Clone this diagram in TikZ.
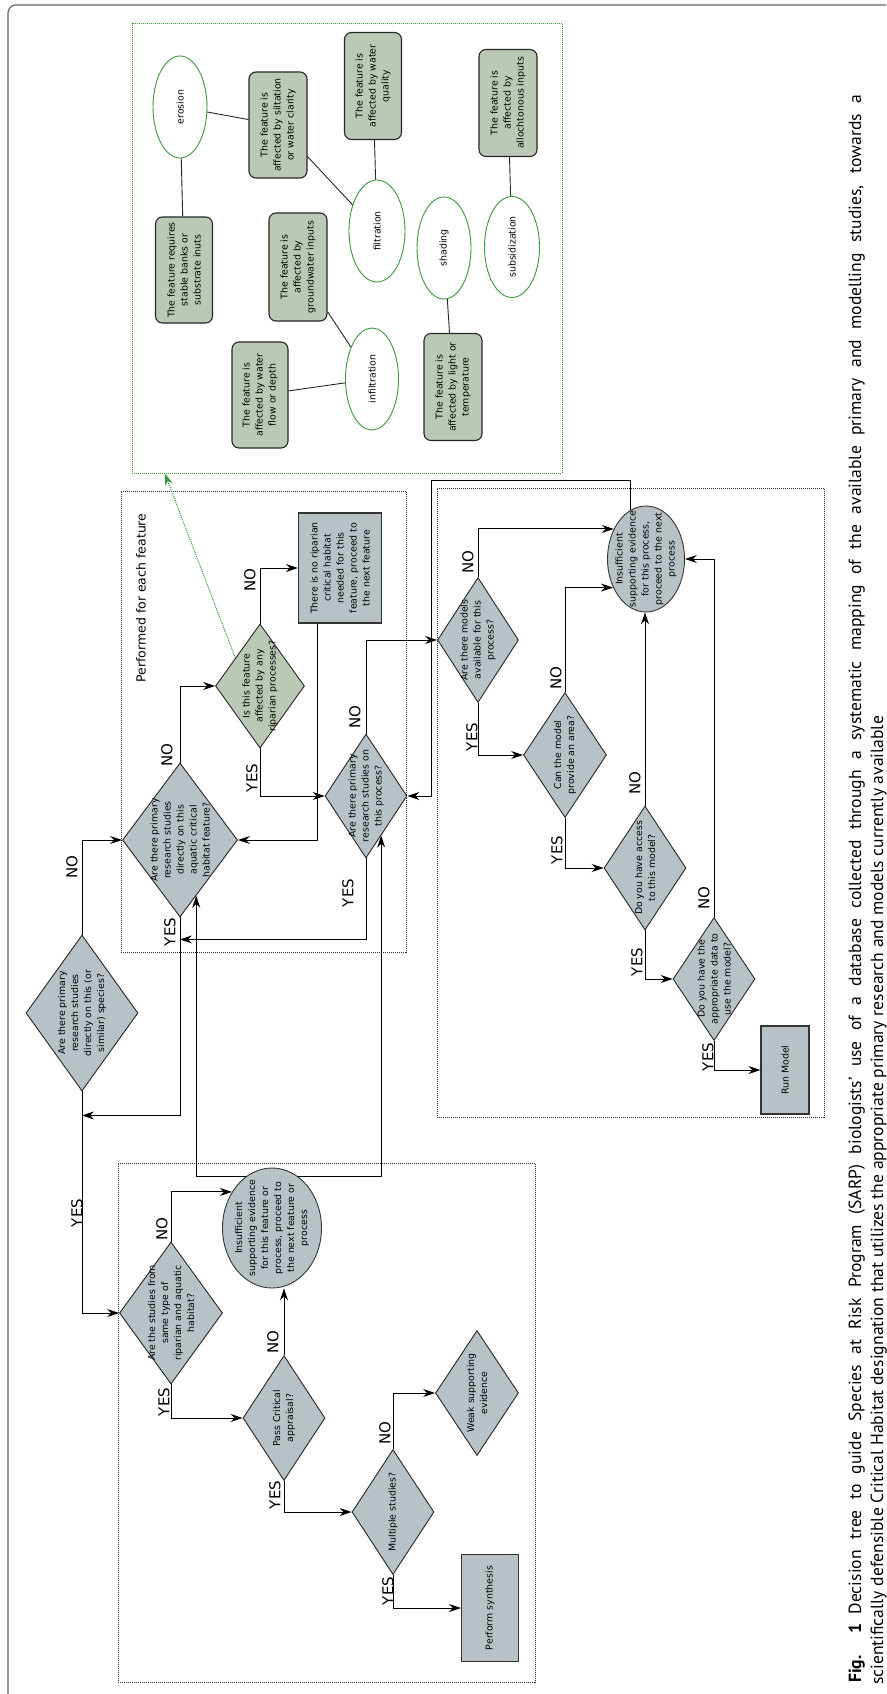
\documentclass[tikz,border=0pt]{standalone}
\usepackage{fontspec}
\setmainfont{DejaVu Sans}
\newfontfamily\capfont{PT Sans}
\usetikzlibrary{shapes.geometric,arrows.meta,calc}
\definecolor{grayfill}{RGB}{184,194,198}
\definecolor{greenfill}{RGB}{186,200,181}
\definecolor{greenline}{RGB}{60,150,60}
\definecolor{framegray}{RGB}{100,100,100}
\begin{document}
\begin{tikzpicture}[x=1pt,y=-1pt,
  txt/.style={font=\fontsize{9.4}{13}\selectfont, align=center},
  vs/.style 2 args={minimum height=#1pt, minimum width=#2pt},
  dia/.style={diamond, draw=black!85, line width=0.9pt, fill=grayfill, rotate=90, inner sep=0pt},
  gdia/.style={dia, fill=greenfill},
  qt/.style={txt, rotate=90, inner sep=0pt},
  rbox/.style={rectangle, draw=black!80, line width=1.1pt, fill=grayfill, rotate=90, inner sep=0pt, txt},
  gbox/.style={rectangle, rounded corners=7pt, draw=black!85, line width=1.1pt, fill=greenfill, rotate=90, inner sep=0pt, txt},
  gell/.style={ellipse, draw=greenline, line width=0.9pt, fill=white, rotate=90, inner sep=0pt, txt},
  ell/.style={ellipse, draw=black!80, line width=0.9pt, fill=grayfill, rotate=90, inner sep=0pt},
  cont/.style={rectangle, draw=black!85, line width=0.8pt, dash pattern=on 1pt off 1pt, inner sep=0pt},
  lab/.style={rotate=90, font=\fontsize{15}{18}\selectfont, inner sep=0pt},
  arr/.style={line width=1pt, -{Stealth[length=12pt,width=8pt,inset=4pt]}},
  gl/.style={line width=0.9pt, black!85},
  garr/.style={greenline, line width=1pt, dash pattern=on 1pt off 1pt, -{Stealth[length=12pt,width=8pt,inset=4pt,fill=greenline]}},
  capt/.style={rotate=90, anchor=base west, inner sep=0pt, font=\capfont\fontsize{17.6}{20}\selectfont}
]
\useasboundingbox (0,0) rectangle (886,1694);
\fill[white] (0,0) rectangle (886,1694);
\draw[framegray, line width=1.2pt, rounded corners=8pt] (886,5) -- (8,5) -- (8,1694);

% containers
\node[cont, draw=greenline, minimum width=430pt, minimum height=450pt] (GB) at (347,248) {};
\node[cont, minimum width=285pt, minimum height=461pt] (PF) at (263.5,721.5) {};
\node[cont, minimum width=387pt, minimum height=629pt] (RB) at (630.5,802.5) {};
\node[cont, minimum width=417pt, minimum height=519pt] (LB) at (326.5,1422.5) {};
\node[rotate=90, font=\fontsize{12.5}{15}\selectfont] (PFl) at (141,598) {Performed for each feature};

% green panel
\node[gell, vs={54}{102}] (ero) at (180,107) {erosion};
\node[gell, vs={56}{102}] (fil) at (377,231) {filtration};
\node[gell, vs={54}{102}] (sha) at (444,248) {shading};
\node[gell, vs={55}{101}] (sub) at (512,247) {subsidization};
\node[gell, vs={53}{102}] (inf) at (372,379) {infiltration};
\node[gbox, vs={57}{106}] (G1) at (184,270) {The feature requires\\stable banks or\\substrate inuts};
\node[gbox, vs={58}{106}] (G2) at (278,125) {The feature is\\affected by siltation\\or water clarity};
\node[gbox, vs={57}{107}] (G3) at (373,86) {The feature is\\affected by water\\quality};
\node[gbox, vs={58}{107}] (G4) at (508,103) {The feature is\\affected by\\allochtonous inputs};
\node[gbox, vs={58}{108}] (G5) at (298,267) {The feature is\\affected by\\groundwater inputs};
\node[gbox, vs={56}{106}] (G6) at (260,395) {The feature is\\affected by water\\flow or depth};
\node[gbox, vs={58}{107}] (G7) at (453,387) {The feature is\\affected by light or\\temperature};
\draw[gl] (ero) -- (G1);
\draw[gl] (ero) -- (G2);
\draw[gl] (G2) -- (fil);
\draw[gl] (G3) -- (fil);
\draw[gl] (G5) -- (inf);
\draw[gl] (G6) -- (inf);
\draw[gl] (sha) -- (G7);
\draw[gl] (G4) -- (sub);

% decision nodes
\node[dia, vs={112}{156}] (D1) at (82,1013) {};
\node[qt] (D1t) at (D1) {Are there primary\\research studies\\directly on this (or\\similar) species?};
\node[dia, vs={115}{154}] (D2) at (180,840) {};
\node[qt] (D2t) at (D2) {Are there primary\\research studies\\directly on this\\aquatic critical\\habitat feature?};
\node[gdia, vs={89}{124}] (D3) at (260,686) {};
\node[qt] (D3t) at (D3) {Is this feature\\affected by any\\riparian processes?};
\node[rbox, vs={83}{110}] (B1) at (340,568) {There is no riparian\\critical habitat\\needed for this\\feature, proceed to\\the next feature};
\node[dia, vs={82}{124}] (D4) at (366,796) {};
\node[qt] (D4t) at (D4) {Are there primary\\research studies on\\this process?};
\node[dia, vs={81}{125}] (D5) at (478,640) {};
\node[qt] (D5t) at (D5) {Are there models\\available for this\\process?};
\node[dia, vs={83}{125}] (D9) at (565,755) {};
\node[qt] (D9t) at (D9) {Can the model\\provide an area?};
\node[ell, vs={77}{106}] (E2) at (646,559) {};
\node[qt] (E2t) at (E2) {Insufficient\\supporting evidence\\for this process,\\proceed to the next\\process};
\node[dia, vs={82}{124}] (D10) at (645,868) {};
\node[qt] (D10t) at (D10) {Do you have access\\to this model?};
\node[dia, vs={82}{123}] (D11) at (714,979) {};
\node[qt] (D11t) at (D11) {Do you have the\\appropriate data to\\use the model?};
\node[rbox, vs={48}{88}] (RM) at (785,1070) {Run Model};
\node[dia, vs={103}{142}] (D6) at (171,1313) {};
\node[qt] (D6t) at (D6) {Are the studies from\\same type of\\riparian and aquatic\\habitat?};
\node[ell, vs={99}{120}] (E1) at (272,1228) {};
\node[qt] (E1t) at (E1) {Insufficient\\supporting evidence\\for this feature or\\process, proceed to\\the next feature or\\process};
\node[dia, vs={82}{125}] (D7) at (284,1418) {};
\node[qt] (D7t) at (D7) {Pass Critical\\appraisal?};
\node[dia, vs={82}{125}] (D8) at (393,1512) {};
\node[qt] (D8t) at (D8) {Multiple studies?};
\node[dia, vs={83}{125}] (W) at (477,1393) {};
\node[qt] (Wt) at (W) {Weak supporting\\evidence};
\node[rbox, vs={57}{107}] (PS) at (490,1608) {Perform synthesis};

% connectors
\draw[arr] (D1.east) |- (D2.north);
\draw[arr] (D2.east) |- (D3.north);
\draw[arr] (D3.east) |- (B1.north);
\draw[arr] (D3.west) |- (D4.north);
\draw[arr] ($(B1.west)+(-23,0)$) |- (D2.south);
\draw[arr] (D4.east) |- (D5.north);
\draw[arr] (D4.west) |- ($(D2.west)+(0,22)$);
\draw[arr] (D2.west) |- ($(D1.west)+(0,24)$);
\draw[arr] (D1.west) |- (D6.north);
\draw[arr] (D6.east) |- (E1.48);
\draw[arr] (D6.west) |- (D7.north);
\draw[arr] (D7.east) -- (D7.east |- E1.west);
\draw[arr] (D7.west) |- (D8.north);
\draw[arr] (D8.east) |- (W.north);
\draw[arr] (D8.west) |- (PS.north);
\draw[arr] (E1.27) -| ($(D2.west)!0.28!(D2.south)$);
\draw[arr] (E1.-27) -| ($(D4.west)!0.366!(D4.south)$);
\draw[arr] (D5.east) |- (E2.47);
\draw[arr] (D5.west) |- (D9.north);
\draw[arr] (D9.east) |- (E2.131);
\draw[arr] (D9.west) |- (D10.north);
\draw[arr] (D10.east) -- (D10.east |- E2.west);
\draw[arr] (D10.west) |- (D11.north);
\draw[arr] (D11.east) |- (E2.south);
\draw[arr] (D11.west) |- (RM.north);
\draw[arr] (E2.18) -- ++(0,-30) -| ($(D4.south)+(24,0)$) -- (D4.south);
\draw[garr] ($(D3.north)!0.45!(D3.east)$) -- ($(GB.south west)!0.077!(GB.south east)$);

% YES / NO labels
\node[lab] (n1) at (72,867) {NO};
\node[lab] (n2) at (167,755) {NO};
\node[lab] (n3) at (250,580) {NO};
\node[lab] (y3) at (252,778) {YES};
\node[lab] (n4) at (355,717) {NO};
\node[lab] (y4) at (348,893) {YES};
\node[lab] (y2) at (170,932) {YES};
\node[lab] (y1) at (77,1213) {YES};
\node[lab] (n6) at (162,1229) {NO};
\node[lab] (y6) at (164,1402) {YES};
\node[lab] (n7) at (273,1342) {NO};
\node[lab] (y7) at (275,1495) {YES};
\node[lab] (n8) at (385,1433) {NO};
\node[lab] (y8) at (388,1591) {YES};
\node[lab] (n5) at (468,562) {NO};
\node[lab] (y5) at (472,737) {YES};
\node[lab] (n9) at (556,678) {NO};
\node[lab] (y9) at (557,850) {YES};
\node[lab] (n10) at (635,783) {NO};
\node[lab] (y10) at (637,962) {YES};
\node[lab] (n11) at (704,898) {NO};
\node[lab] (y11) at (708,1057) {YES};

% caption
\node[capt] (cap1) at (861,1683) {\hbox to 1588pt{\textbf{Fig. 1}\hspace{0.5em}Decision tree to guide Species at Risk Program (SARP) biologists’ use of a database collected through a systematic mapping of the available primary and modelling studies, towards a}};
\node[capt] (cap2) at (883,1685) {scientifically defensible Critical Habitat designation that utilizes the appropriate primary research and models currently available};
\end{tikzpicture}
\end{document}
